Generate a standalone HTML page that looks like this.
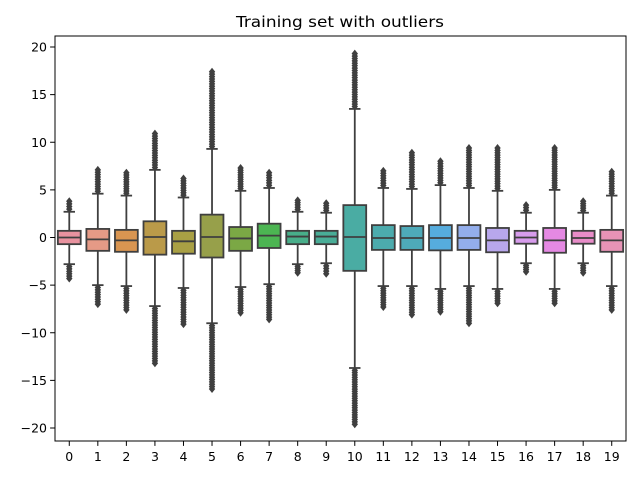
<!DOCTYPE html>
<html><head><meta charset="utf-8"><style>
html,body{margin:0;padding:0;background:#fff;}
svg text{font-family:"DejaVu Sans","Liberation Sans",sans-serif;fill:#000;}
</style></head><body>
<svg id="chart" width="640" height="480" viewBox="0 0 640 480" xmlns="http://www.w3.org/2000/svg">
<rect x="0" y="0" width="640" height="480" fill="#fff"/>
<text x="340" y="27" font-size="15.5" text-anchor="middle" textLength="208" lengthAdjust="spacingAndGlyphs">Training set with outliers</text>
<g id="plot"></g>
<rect x="55" y="36" width="571" height="405" fill="none" stroke="#000" stroke-width="1"/>
</svg>
<script>
const categories = ["0","1","2","3","4","5","6","7","8","9","10","11","12","13","14","15","16","17","18","19"];
const q1 = [-0.7,-1.4,-1.5,-1.8,-1.7,-2.1,-1.4,-1.1,-0.7,-0.7,-3.5,-1.3,-1.3,-1.35,-1.3,-1.55,-0.65,-1.6,-0.65,-1.5];
const medians = [0,-0.2,-0.3,0.05,-0.4,0.05,-0.1,0.2,0.1,0.1,0.05,-0.05,-0.05,-0.05,-0.05,-0.3,0,-0.3,-0.05,-0.3];
const q3 = [0.7,0.9,0.8,1.7,0.7,2.4,1.1,1.45,0.7,0.7,3.4,1.3,1.2,1.3,1.3,1.0,0.7,1.0,0.7,0.8];
const whiskerHigh = [2.7,4.6,4.4,7.1,4.2,9.3,4.9,5.2,2.7,2.6,13.5,5.2,5.1,5.5,5.2,4.9,2.6,5.0,2.6,4.4];
const whiskerLow = [-2.8,-5.0,-5.1,-7.2,-5.3,-9.0,-5.2,-4.9,-2.8,-2.7,-13.7,-5.1,-5.1,-5.4,-5.1,-5.4,-2.7,-5.4,-2.7,-5.1];
const flierMax = [3.8,7.1,6.8,10.9,6.2,17.4,7.3,6.8,3.9,3.6,19.3,7.0,8.9,8.0,9.4,9.4,3.4,9.4,3.8,6.9];
const flierMin = [-4.3,-7.0,-7.6,-13.2,-9.1,-15.9,-7.9,-8.6,-3.7,-3.8,-19.6,-7.3,-8.1,-7.8,-9.0,-6.9,-3.6,-6.9,-3.7,-7.6];
const yTicks = [-20,-15,-10,-5,0,5,10,15,20];
const colors = ["#e8929f","#e59a86","#d99551","#ba9a49","#a9a044","#97a04a","#7ba845","#4cb552","#48ae8a","#49ad97","#4aaca3","#4cabad","#4eaab9","#56acdd","#93aeec","#b8a7ec","#d79cec","#e589e3","#e88cc8","#e793b6"];

const L=55,R=626,T=36,B=441;
const y = v => 237.5 - v*9.525;
const step = (R-L)/categories.length;
const x = i => L + step*(i+0.5);
const NS="http://www.w3.org/2000/svg";
const g=document.getElementById('plot');
function mk(tag,attrs,parent){const e=document.createElementNS(NS,tag);for(const k in attrs)e.setAttribute(k,attrs[k]);(parent||g).appendChild(e);return e;}
const LC="#3f3f3f";
function diamond(cx,cy,parent){
  return mk('path',{d:`M${cx} ${cy-4}L${cx+3.2} ${cy}L${cx} ${cy+4}L${cx-3.2} ${cy}Z`,fill:LC},parent);
}
// y ticks
yTicks.forEach(t=>{
  const tk=mk('line',{x1:L-4.9,x2:L,y1:y(t),y2:y(t),stroke:'#000','stroke-width':1});
  
  
  const tx=mk('text',{x:L-8,y:y(t)+4.5,'font-size':12.5,'text-anchor':'end'});
  tx.textContent=(t<0?'\u2212'+(-t):String(t));
  
  
});
categories.forEach((c,i)=>{
  const cx=x(i), w=step*0.8;
  const grp=mk('g',{});
  
  
  // fliers
  const fl=(a,b)=>{const n=Math.max(1,Math.round(Math.abs(b-a)/0.25));for(let k=1;k<=n;k++){diamond(cx,y(a+(b-a)*k/n),grp);}};
  fl(whiskerHigh[i],flierMax[i]);
  fl(whiskerLow[i],flierMin[i]);
  mk('line',{x1:cx,x2:cx,y1:y(q3[i]),y2:y(whiskerHigh[i]),stroke:LC,'stroke-width':1.8},grp);
  mk('line',{x1:cx,x2:cx,y1:y(q1[i]),y2:y(whiskerLow[i]),stroke:LC,'stroke-width':1.8},grp);
  mk('line',{x1:cx-w/4,x2:cx+w/4,y1:y(whiskerHigh[i]),y2:y(whiskerHigh[i]),stroke:LC,'stroke-width':1.8},grp);
  mk('line',{x1:cx-w/4,x2:cx+w/4,y1:y(whiskerLow[i]),y2:y(whiskerLow[i]),stroke:LC,'stroke-width':1.8},grp);
  mk('rect',{x:cx-w/2,y:y(q3[i]),width:w,height:y(q1[i])-y(q3[i]),fill:colors[i],stroke:LC,'stroke-width':1.8},grp);
  mk('line',{x1:cx-w/2,x2:cx+w/2,y1:y(medians[i]),y2:y(medians[i]),stroke:LC,'stroke-width':1.8},grp);
  const tk=mk('line',{x1:cx,x2:cx,y1:B,y2:B+4.9,stroke:'#000','stroke-width':1});
  
  
  const tx=mk('text',{x:cx,y:B+20,'font-size':12.5,'text-anchor':'middle'});
  tx.textContent=c;
  
  
});
</script>
</body></html>
